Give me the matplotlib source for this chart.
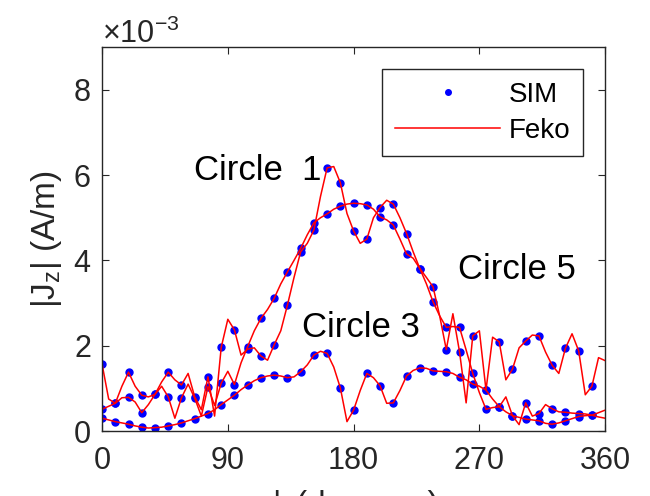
import numpy as np
import matplotlib.pyplot as plt

plt.rcParams['font.family'] = ['Liberation Sans', 'DejaVu Sans']
plt.rcParams['mathtext.fontset'] = 'custom'
plt.rcParams['mathtext.rm'] = 'Liberation Sans'
plt.rcParams['mathtext.it'] = 'Liberation Sans:italic'
plt.rcParams['mathtext.default'] = 'regular'

# SIM: 38 samples around each circle, values in 1e-3 A/m
phi_sim = np.linspace(0, 360, 38, endpoint=False)
sim_c1 = [0.51, 0.65, 0.79, 0.43, 0.86, 0.80, 0.78, 0.77, 1.04, 1.12,
          1.09, 1.98, 2.64, 3.11, 3.73, 4.28, 4.88, 5.09, 5.27, 5.34,
          5.30, 5.02, 4.83, 4.15, 3.81, 3.03, 2.43, 2.43, 1.35, 0.51,
          0.57, 0.36, 0.66, 0.41, 0.52, 0.44, 0.41, 0.37]
sim_c3 = [0.30, 0.22, 0.16, 0.09, 0.08, 0.12, 0.19, 0.29, 0.41, 0.62,
          0.84, 1.08, 1.25, 1.31, 1.25, 1.39, 1.78, 1.82, 1.01, 0.49,
          1.35, 1.06, 0.66, 1.29, 1.48, 1.41, 1.39, 1.26, 1.10, 0.96,
          0.57, 0.36, 0.28, 0.24, 0.16, 0.24, 0.34, 0.37]
sim_c5 = [1.57, 0.65, 1.38, 0.84, 0.86, 1.38, 1.08, 0.80, 1.27, 1.96,
          2.37, 1.92, 1.76, 2.02, 2.95, 4.20, 4.71, 6.17, 5.82, 4.69,
          4.50, 5.24, 5.32, 4.63, 3.81, 3.38, 1.91, 1.86, 2.23, 0.96,
          2.09, 1.45, 2.11, 2.23, 1.54, 1.94, 1.88, 1.05]

# Feko: half the SIM step, 0..360
phi_feko = np.linspace(0, 360, 77)
feko_c1 = [0.51, 0.58, 0.65, 0.78, 0.79, 0.68, 0.43, 0.62, 0.86, 1.05,
           0.80, 0.30, 0.78, 1.10, 0.77, 0.35, 1.04, 0.60, 1.12, 1.40,
           1.09, 1.60, 1.98, 2.35, 2.64, 2.85, 3.11, 3.45, 3.73, 4.00,
           4.28, 4.60, 4.88, 5.00, 5.09, 5.20, 5.27, 5.32, 5.34, 5.33,
           5.30, 5.20, 5.02, 4.95, 4.83, 4.50, 4.15, 4.05, 3.81, 3.45,
           3.03, 2.70, 2.43, 2.45, 2.43, 1.90, 1.35, 0.90, 0.51, 0.55,
           0.57, 0.80, 0.36, 0.15, 0.66, 0.35, 0.41, 0.62, 0.52, 0.45,
           0.44, 0.42, 0.41, 0.40, 0.37, 0.43, 0.49]
feko_c3 = [0.30, 0.26, 0.22, 0.19, 0.16, 0.12, 0.09, 0.07, 0.08, 0.09,
           0.12, 0.15, 0.19, 0.24, 0.29, 0.35, 0.41, 0.50, 0.62, 0.73,
           0.84, 0.97, 1.08, 1.18, 1.25, 1.29, 1.31, 1.29, 1.25, 1.27,
           1.39, 1.55, 1.78, 1.87, 1.82, 1.50, 1.01, 0.22, 0.49, 0.95,
           1.35, 1.25, 1.06, 0.65, 0.66, 0.95, 1.29, 1.42, 1.48, 1.47,
           1.41, 1.40, 1.39, 1.35, 1.26, 1.20, 1.10, 1.05, 0.96, 0.75,
           0.57, 0.45, 0.36, 0.32, 0.28, 0.26, 0.24, 0.18, 0.16, 0.19,
           0.24, 0.29, 0.34, 0.36, 0.37, 0.33, 0.30]
feko_c5 = [1.57, 0.75, 0.65, 1.05, 1.38, 1.05, 0.84, 0.80, 0.86, 1.15,
           1.38, 1.20, 1.08, 1.35, 0.80, 0.50, 1.27, 0.35, 1.96, 2.62,
           2.37, 1.78, 1.92, 1.95, 1.76, 1.66, 2.02, 2.35, 2.95, 3.60,
           4.20, 4.40, 4.71, 5.50, 6.17, 6.20, 5.82, 5.10, 4.69, 4.40,
           4.50, 5.00, 5.24, 5.41, 5.32, 5.00, 4.63, 4.20, 3.81, 3.60,
           3.38, 2.70, 1.91, 2.75, 1.86, 0.66, 2.23, 2.35, 0.96, 2.20,
           2.09, 1.20, 1.45, 1.95, 2.11, 2.25, 2.23, 1.85, 1.54, 1.35,
           1.94, 2.28, 1.88, 0.85, 1.05, 1.72, 1.65]

fig = plt.figure(figsize=(6.5, 4.96), dpi=100)
ax = fig.add_axes([0.157, 0.131, 0.774, 0.774])

sims = [sim_c1, sim_c3, sim_c5]
fekos = [feko_c1, feko_c3, feko_c5]
for i in range(3):
    ax.plot(phi_sim, np.array(sims[i]) * 1e-3, 'o', color='blue', ms=5,
            mec='blue', label='SIM' if i == 0 else None)
for i in range(3):
    ax.plot(phi_feko, np.array(fekos[i]) * 1e-3, '-', color='red', lw=1.1,
            label='Feko' if i == 0 else None)

ax.text(66, 6.1e-3, 'Circle  1', fontsize=25, va='center')
ax.text(143, 2.42e-3, 'Circle 3', fontsize=25, va='center')
ax.text(255, 3.78e-3, 'Circle 5', fontsize=25, va='center')

ax.set_xlim(0, 360)
ax.set_ylim(0, 9e-3)
ax.set_xticks([0, 90, 180, 270, 360])
ax.set_yticks([0, 2e-3, 4e-3, 6e-3, 8e-3])
ax.ticklabel_format(axis='y', style='sci', scilimits=(0, 0), useMathText=True)
ax.yaxis.get_offset_text().set_fontsize(22)
ax.tick_params(direction='in', length=5, labelsize=22, top=True, right=True,
               color='#262626', labelcolor='#262626')
ax.tick_params(axis='x', pad=11)
ax.tick_params(axis='y', pad=8)
for s in ax.spines.values():
    s.set_color('#262626')
    s.set_linewidth(1.0)

# the reference only shows the top of this label at the bottom edge
ax.set_xlabel('ϕ (degrees)', fontsize=24, color='#262626', labelpad=10)
ax.set_ylabel('|J$_z$| (A/m)', fontsize=24, color='#262626', labelpad=6)

leg = ax.legend(loc='upper right', fontsize=20, handlelength=3.8,
                handletextpad=0.3, borderaxespad=0.8, labelspacing=0.35,
                borderpad=0.45, fancybox=False, edgecolor='#262626',
                framealpha=1, markerscale=0.8)
leg.get_frame().set_linewidth(1.0)

fig.savefig('out.png', dpi=100)
